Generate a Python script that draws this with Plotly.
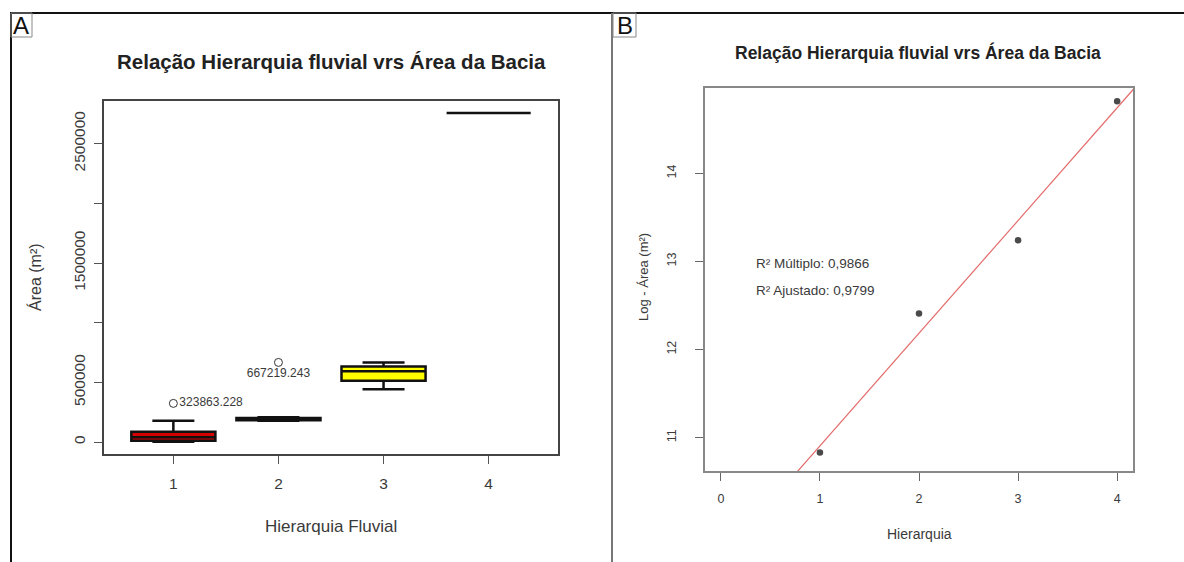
import numpy as np
import plotly.graph_objects as go

W, H = 1184, 562

# ---------------- data ----------------
# Panel A: boxplot statistics of basin area (m²) by stream order
orders = [1, 2, 3, 4]
box_lower = [3000, 178000, 443000, 2756000]
box_q1 = [11000, 183000, 513000, 2756000]
box_median = [40000, 192000, 594000, 2756000]
box_q3 = [87000, 202000, 633000, 2756000]
box_upper = [179000, 208000, 666000, 2756000]
box_colors = ["#d40000", "#000000", "#ffff00", "#000000"]

outlier_x = [1, 2]
outlier_y = [323863.228, 667219.243]
outlier_labels = ["323863.228", "667219.243"]

yA_ticks = [0, 500000, 1000000, 1500000, 2000000, 2500000]
yA_ticklabels = ["0", "500000", "", "1500000", "", "2500000"]

# Panel B: log(area) vs order
hier = [1, 2, 3, 4]
log_area = [10.83, 12.41, 13.24, 14.82]
xB_ticks = [0, 1, 2, 3, 4]
yB_ticks = [11, 12, 13, 14]
r2_texts = ["R² Múltiplo: 0,9866", "R² Ajustado: 0,9799"]

title_text = "Relação Hierarquia fluvial vrs Área da Bacia"

# ---------------- helpers ----------------
def px(x):
    return x / W


def py(y):
    return 1 - y / H


FONT = "Liberation Sans, Arial, Helvetica, sans-serif"
TXT = "#3a3a3a"

fig = go.Figure()

# ---- Panel A boxes ----
for i, o in enumerate(orders):
    fig.add_trace(go.Box(
        x=[o], q1=[box_q1[i]], median=[box_median[i]], q3=[box_q3[i]],
        lowerfence=[box_lower[i]], upperfence=[box_upper[i]],
        width=0.8, whiskerwidth=0.5,
        fillcolor=box_colors[i],
        line=dict(color="#111111", width=2.5),
        boxpoints=False, hoverinfo="skip", showlegend=False,
        xaxis="x", yaxis="y",
    ))

fig.add_trace(go.Scatter(
    x=outlier_x[:1], y=outlier_y[:1], mode="markers+text",
    text=[outlier_labels[0]], textposition="middle right",
    textfont=dict(family=FONT, size=12, color=TXT),
    marker=dict(symbol="circle-open", size=8, color="#333", line=dict(width=1)),
    showlegend=False, xaxis="x", yaxis="y", hoverinfo="skip",
))
fig.add_trace(go.Scatter(
    x=outlier_x[1:], y=outlier_y[1:], mode="markers+text",
    text=[outlier_labels[1]], textposition="bottom center",
    textfont=dict(family=FONT, size=12, color=TXT),
    marker=dict(symbol="circle-open", size=8, color="#333", line=dict(width=1)),
    showlegend=False, xaxis="x", yaxis="y", hoverinfo="skip",
))

# ---- Panel B ----
slope, intercept = np.polyfit(hier, log_area, 1)
xl = np.array([-0.5, 4.5])
fig.add_trace(go.Scatter(
    x=xl, y=slope * xl + intercept, mode="lines",
    line=dict(color="#e46a6a", width=1.2),
    showlegend=False, xaxis="x2", yaxis="y2", hoverinfo="skip",
))
fig.add_trace(go.Scatter(
    x=hier, y=log_area, mode="markers",
    marker=dict(size=6.5, color="#4a4a4a"),
    showlegend=False, xaxis="x2", yaxis="y2", hoverinfo="skip",
))

axis_common = dict(
    showline=True, mirror=True, ticks="outside", ticklen=8,
    showgrid=False, zeroline=False,
)
fontA = dict(family=FONT, size=15.5, color=TXT)
fontB = dict(family=FONT, size=12.5, color=TXT)

fig.update_layout(
    width=W, height=H,
    margin=dict(l=0, r=0, t=0, b=0),
    paper_bgcolor="white", plot_bgcolor="white",
    showlegend=False,
    xaxis=dict(domain=[px(104), px(558)], range=[0.34, 4.66],
               tickvals=orders, ticktext=[str(o) for o in orders],
               linecolor="#444", tickcolor="#555", linewidth=1.5,
               ticklabelstandoff=7, anchor="y", tickfont=fontA, **axis_common),
    yaxis=dict(domain=[py(454), py(101)], range=[-100000, 2857000],
               tickvals=yA_ticks, ticktext=yA_ticklabels, tickangle=-90,
               linecolor="#444", tickcolor="#555", linewidth=1.5,
               ticklabelstandoff=3, anchor="x", tickfont=fontA, **axis_common),
    xaxis2=dict(domain=[px(705), px(1133)], range=[-0.16, 4.16],
                tickvals=xB_ticks, ticktext=[str(v) for v in xB_ticks],
                linecolor="#888", tickcolor="#666", linewidth=1.5,
                ticklabelstandoff=7, anchor="y2", tickfont=fontB, **axis_common),
    yaxis2=dict(domain=[py(471), py(88)], range=[10.62, 14.97],
                tickvals=yB_ticks, ticktext=[str(v) for v in yB_ticks], tickangle=-90,
                linecolor="#888", tickcolor="#666", linewidth=1.5,
                ticklabelstandoff=14, anchor="x2", tickfont=fontB, **axis_common),
)

ann = []
# titles
ann.append(dict(x=px(331), y=py(61), xref="paper", yref="paper", text="<b>" + title_text + "</b>",
                showarrow=False, font=dict(family=FONT, size=20.5, color="#222"),
                xanchor="center", yanchor="middle"))
ann.append(dict(x=px(918), y=py(53), xref="paper", yref="paper", text="<b>" + title_text + "</b>",
                showarrow=False, font=dict(family=FONT, size=17.5, color="#222"),
                xanchor="center", yanchor="middle"))
# axis titles
ann.append(dict(x=px(331), y=py(526), xref="paper", yref="paper", text="Hierarquia Fluvial",
                showarrow=False, font=dict(family=FONT, size=17, color=TXT),
                xanchor="center", yanchor="middle"))
ann.append(dict(x=px(35), y=py(277), xref="paper", yref="paper", text="Área (m²)",
                showarrow=False, font=dict(family=FONT, size=16, color=TXT), textangle=-90,
                xanchor="center", yanchor="middle"))
ann.append(dict(x=px(919), y=py(534), xref="paper", yref="paper", text="Hierarquia",
                showarrow=False, font=dict(family=FONT, size=14, color=TXT),
                xanchor="center", yanchor="middle"))
ann.append(dict(x=px(643), y=py(277), xref="paper", yref="paper", text="Log - Área (m²)",
                showarrow=False, font=dict(family=FONT, size=13, color=TXT), textangle=-90,
                xanchor="center", yanchor="middle"))
# R² texts
for t, yy in zip(r2_texts, [263, 290]):
    ann.append(dict(x=px(754), y=py(yy), xref="paper", yref="paper", text=t,
                    showarrow=False, font=dict(family=FONT, size=13.5, color=TXT),
                    xanchor="left", yanchor="middle"))
# panel letters
ann.append(dict(x=px(21.5), y=py(25), xref="paper", yref="paper", text="A",
                showarrow=False, font=dict(family=FONT, size=24, color="#111"),
                xanchor="center", yanchor="middle"))
ann.append(dict(x=px(624.5), y=py(25), xref="paper", yref="paper", text="B",
                showarrow=False, font=dict(family=FONT, size=24, color="#111"),
                xanchor="center", yanchor="middle"))
fig.update_layout(annotations=ann)

shapes = [
    dict(type="line", xref="paper", yref="paper", x0=px(10), x1=1, y0=py(13), y1=py(13),
         line=dict(color="#111", width=2)),
    dict(type="line", xref="paper", yref="paper", x0=px(11), x1=px(11), y0=py(13), y1=0,
         line=dict(color="#111", width=2)),
    dict(type="line", xref="paper", yref="paper", x0=px(612), x1=px(612), y0=py(13), y1=0,
         line=dict(color="#777", width=2)),
    dict(type="rect", xref="paper", yref="paper", x0=px(11), x1=px(32), y0=py(37), y1=py(13),
         line=dict(color="#888", width=1)),
    dict(type="rect", xref="paper", yref="paper", x0=px(613), x1=px(636), y0=py(37), y1=py(13),
         line=dict(color="#888", width=1)),
]
fig.update_layout(shapes=shapes)

fig.write_html("out.html",
               config={"displayModeBar": False},
               post_script="document.body.style.margin='0px';document.body.style.overflow='hidden';")
